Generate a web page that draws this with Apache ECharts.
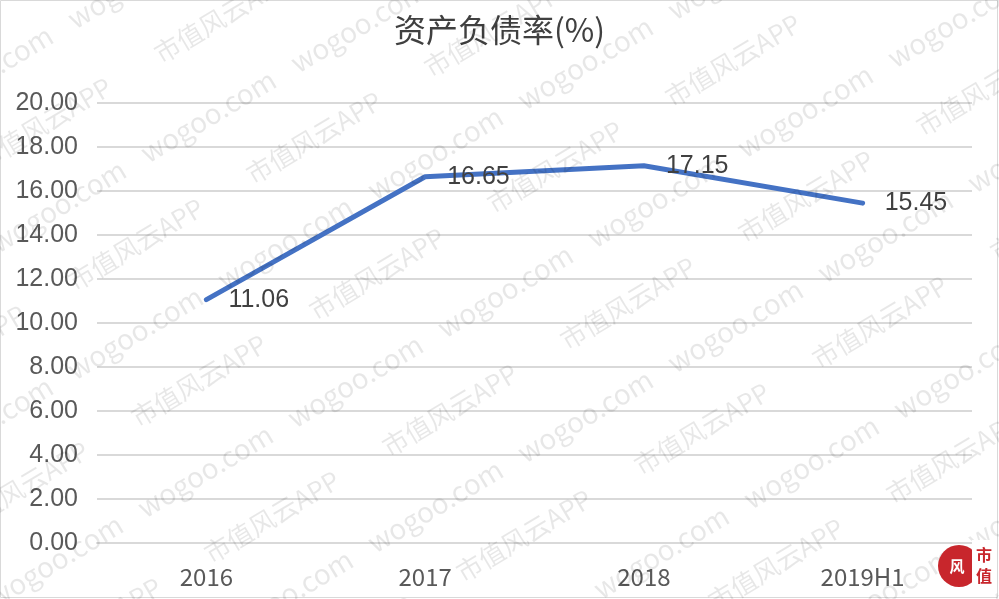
<!DOCTYPE html>
<html>
<head>
<meta charset="utf-8">
<script src="https://cdn.jsdelivr.net/npm/echarts@6/dist/echarts.min.js"></script>
<style>
html,body{margin:0;padding:0;background:#fff;}
#chart{width:999px;height:599px;}
</style>
</head>
<body>
<div id="chart"></div>
<script>
// ---- data ----
var titleText = '资产负债率(%)';
var categories = ['2016', '2017', '2018', '2019H1'];
var ratioValues = [11.06, 16.65, 17.15, 15.45];
var yTicks = { min: 0, max: 20, interval: 2 };

// ---- watermark layout (decoration only) ----
var wmSlope = 0.6; // rows rise to the right (~31deg)
var wmRot = Math.atan(wmSlope);
var wogooRows = [[79, 77], [257, 150], [430, 77], [610, 147], [783, 77], [965, 153], [1140, 77]];
var appRows = [[-10, 90], [165, 163], [341, 77], [515, 140], [695, 35], [865, 109], [1045, 5], [1220, 90]];

function buildWatermarks() {
  var els = [];
  function addRow(c, phase, period, text, size) {
    var x0 = phase;
    while (x0 > -200) x0 -= period;
    for (var x = x0; x < 1100; x += period) {
      var y = c - wmSlope * x;
      if (y < -60 || y > 700) continue;
      els.push({
        type: 'text', x: x, y: y, rotation: wmRot, silent: true, z: 100,
        style: { text: text, fill: 'rgba(0,0,0,0.095)', font: size + 'px "Noto Sans CJK SC", sans-serif',
                 textAlign: 'left', textVerticalAlign: 'bottom' }
      });
    }
  }
  wogooRows.forEach(function (r) { addRow(r[0], r[1], 150, 'wogoo.com', 28); });
  appRows.forEach(function (r) { addRow(r[0], r[1], 178, '市值风云APP', 26); });
  return els;
}

var chart = echarts.init(document.getElementById('chart'), null, { renderer: 'canvas' });
var graphics = [
  { type: 'rect', shape: { x: 0.5, y: 0.5, width: 997, height: 597 }, style: { fill: 'none', stroke: '#d9d9d9', lineWidth: 1 }, silent: true, z: 0 },
  { type: 'circle', shape: { cx: 959, cy: 566, r: 21 }, style: { fill: '#c8262c' }, silent: true, z: 120 },
  { type: 'rect', shape: { x: 972, y: 540, width: 24, height: 54 }, style: { fill: '#ffffff' }, silent: true, z: 121 },
  { type: 'text', x: 957, y: 566, style: { text: '风', fill: '#ffffff', font: 'bold 15px "Noto Sans CJK SC"', textAlign: 'center', textVerticalAlign: 'middle' }, silent: true, z: 122 },
  { type: 'text', x: 984, y: 555, style: { text: '市', fill: '#c8262c', font: 'bold 16px "Noto Sans CJK SC"', textAlign: 'center', textVerticalAlign: 'middle' }, silent: true, z: 122 },
  { type: 'text', x: 984, y: 576, style: { text: '值', fill: '#c8262c', font: 'bold 16px "Noto Sans CJK SC"', textAlign: 'center', textVerticalAlign: 'middle' }, silent: true, z: 122 }
].concat(buildWatermarks());

chart.setOption({
  backgroundColor: '#ffffff',
  animation: false,
  title: {
    text: titleText, left: 'center', top: 9,
    textStyle: { fontFamily: '"Noto Sans CJK SC", sans-serif', fontSize: 32, fontWeight: 'normal', color: '#404040' }
  },
  grid: { left: 97, right: 27, top: 103, bottom: 56, containLabel: false },
  xAxis: {
    type: 'category', data: categories, boundaryGap: true,
    axisLine: { show: true, lineStyle: { color: '#d9d9d9', width: 2 } },
    axisTick: { show: false },
    axisLabel: { margin: 22, color: '#595959', fontSize: 24, fontFamily: '"Liberation Sans Narrow", "Noto Sans CJK SC", sans-serif' },
    splitLine: { show: false }
  },
  yAxis: {
    type: 'value', min: yTicks.min, max: yTicks.max, interval: yTicks.interval,
    axisLine: { show: false }, axisTick: { show: false },
    axisLabel: { margin: 19, color: '#595959', fontSize: 25, fontFamily: '"Liberation Sans", Arial, sans-serif',
                 padding: [5, 0, 0, 0],
                 formatter: function (v) { return v.toFixed(2); } },
    splitLine: { show: true, lineStyle: { color: '#d9d9d9', width: 2 } }
  },
  series: [{
    type: 'line', data: ratioValues, symbol: 'circle', symbolSize: 2, showSymbol: true, smooth: false,
    itemStyle: { color: 'rgba(68,114,196,0)', borderWidth: 0 },
    lineStyle: { color: '#4472C4', width: 5, cap: 'round', join: 'round' },
    label: {
      show: true, position: 'right', distance: 21, offset: [0, 7],
      color: '#404040', fontSize: 25, fontFamily: '"Liberation Sans", Arial, sans-serif',
      formatter: function (p) { return p.value.toFixed(2); }
    },
    labelLayout: { hideOverlap: false },
    z: 5
  }],
  graphic: graphics
});
</script>
</body>
</html>
